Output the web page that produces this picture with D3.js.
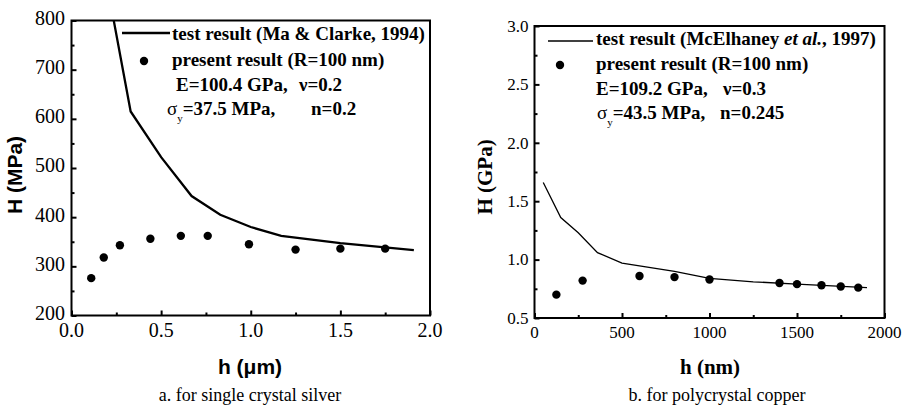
<!DOCTYPE html>
<html>
<head>
<meta charset="utf-8">
<script src="https://cdn.jsdelivr.net/npm/d3@7"></script>
<style>
  body { margin: 0; background: #fff; }
  svg { display: block; }
</style>
</head>
<body>
<script>
// panel a: single crystal silver (h in um, H in MPa)
var silverTestH = [0.2, 0.33, 0.5, 0.67, 0.83, 1.0, 1.17, 1.5, 1.91];
var silverTestHard = [870, 615, 522, 443, 405, 380, 362, 347, 333];
var silverCalcH = [0.11, 0.18, 0.27, 0.44, 0.61, 0.76, 0.99, 1.25, 1.5, 1.75];
var silverCalcHard = [276, 318, 343, 356, 362, 362, 345, 334, 336, 336];
var silverXTicks = [0, 0.5, 1.0, 1.5, 2.0];
var silverYTicks = [200, 300, 400, 500, 600, 700, 800];

// panel b: polycrystal copper (h in nm, H in GPa)
var copperTestH = [50, 150, 250, 360, 500, 800, 1000, 1250, 1500, 1900];
var copperTestHard = [1.66, 1.36, 1.23, 1.06, 0.97, 0.90, 0.84, 0.81, 0.79, 0.76];
var copperCalcH = [125, 275, 600, 800, 1000, 1400, 1500, 1640, 1750, 1850];
var copperCalcHard = [0.70, 0.82, 0.86, 0.85, 0.83, 0.80, 0.79, 0.78, 0.77, 0.76];
var copperXTicks = [0, 500, 1000, 1500, 2000];
var copperYTicks = [0.5, 1.0, 1.5, 2.0, 2.5, 3.0];

var SERIF = "'Liberation Serif', 'Times New Roman', serif";
var SANS = "'Liberation Sans', Arial, sans-serif";

var svg = d3.select("body").append("svg")
            .attr("width", 909)
            .attr("height", 409);

function zip(a, b){
  var out = [];
  for (var i = 0; i < a.length; i++) out.push({x: a[i], y: b[i]});
  return out;
}

function panel(opt){
  var x = d3.scaleLinear().domain(opt.xDomain).range(opt.xRange);
  var y = d3.scaleLinear().domain(opt.yDomain).range(opt.yRange);
  var g = svg.append("g");

  function ticks(axis, tr, size){
    g.append("g").attr("transform", tr)
      .call(axis.tickSize(size).tickFormat(""))
      .call(function(s){
        s.select(".domain").remove();
        s.selectAll("text").remove();
        s.selectAll("line").attr("stroke-width", 2);
      });
  }
  var bottom = "translate(0," + opt.yRange[0] + ")";
  var left = "translate(" + opt.xRange[0] + ",0)";
  ticks(d3.axisBottom(x).tickValues(opt.xMinor), bottom, -3);
  ticks(d3.axisLeft(y).tickValues(opt.yMinor), left, -3);
  ticks(d3.axisBottom(x).tickValues(opt.xTicks), bottom, -5);
  ticks(d3.axisLeft(y).tickValues(opt.yTicks), left, -5);

  // tick labels, placed from the scales
  g.selectAll("text.xl").data(opt.xTicks).enter().append("text")
    .attr("class", "xl")
    .attr("x", function(d){ return x(d); })
    .attr("y", opt.yRange[0] + opt.xPad)
    .attr("dy", "0.71em")
    .attr("text-anchor", "middle")
    .style("font-family", SERIF).style("font-size", opt.tickFont + "px")
    .text(opt.xFmt);
  g.selectAll("text.yl").data(opt.yTicks).enter().append("text")
    .attr("class", "yl")
    .attr("x", opt.xRange[0] - opt.yPad)
    .attr("y", function(d){ return y(d); })
    .attr("dy", opt.yDy)
    .attr("text-anchor", "end")
    .style("font-family", SERIF).style("font-size", opt.tickFont + "px")
    .text(opt.yFmt);

  // frame
  g.append("rect")
    .attr("x", opt.xRange[0]).attr("y", opt.yRange[1])
    .attr("width", opt.xRange[1] - opt.xRange[0])
    .attr("height", opt.yRange[0] - opt.yRange[1])
    .attr("fill", "none").attr("stroke", "#000").attr("stroke-width", 2);

  var clipId = "clip" + opt.id;
  svg.append("clipPath").attr("id", clipId).append("rect")
    .attr("x", opt.xRange[0]).attr("y", opt.yRange[1])
    .attr("width", opt.xRange[1] - opt.xRange[0])
    .attr("height", opt.yRange[0] - opt.yRange[1]);

  var line = d3.line().x(function(d){ return x(d.x); }).y(function(d){ return y(d.y); });
  g.append("path")
    .attr("d", line(opt.test))
    .attr("clip-path", "url(#" + clipId + ")")
    .attr("fill", "none").attr("stroke", "#000").attr("stroke-width", opt.lineW);

  g.selectAll("circle.pt").data(opt.calc).enter().append("circle")
    .attr("class", "pt")
    .attr("cx", function(d){ return x(d.x); })
    .attr("cy", function(d){ return y(d.y); })
    .attr("r", 4.2).attr("fill", "#000");

  return g;
}

var pa = panel({
  id: "a",
  xDomain: [0, 2], xRange: [71.5, 430],
  yDomain: [200, 800], yRange: [315.5, 20.5],
  xTicks: silverXTicks, yTicks: silverYTicks,
  xMinor: [0.25, 0.75, 1.25, 1.75],
  yMinor: [250, 350, 450, 550, 650, 750],
  xFmt: d3.format(".1f"), yFmt: d3.format("d"),
  xPad: 7, yPad: 6.5, tickFont: 20, yDy: "0.22em",
  lineW: 2.3,
  test: zip(silverTestH, silverTestHard),
  calc: zip(silverCalcH, silverCalcHard)
});

var pb = panel({
  id: "b",
  xDomain: [0, 2000], xRange: [534.5, 884.5],
  yDomain: [0.5, 3], yRange: [318, 26],
  xTicks: copperXTicks, yTicks: copperYTicks,
  xMinor: [250, 750, 1250, 1750],
  yMinor: [0.75, 1.25, 1.75, 2.25, 2.75],
  xFmt: d3.format("d"), yFmt: d3.format(".1f"),
  xPad: 8, yPad: 6, tickFont: 17, yDy: "0.34em",
  lineW: 1.3,
  test: zip(copperTestH, copperTestHard),
  calc: zip(copperCalcH, copperCalcHard)
});

// ---- legends ----
function legend(g, o){
  g.append("line").attr("x1", o.lx1).attr("x2", o.lx2).attr("y1", o.ly).attr("y2", o.ly)
    .attr("stroke", "#000").attr("stroke-width", o.lineW);
  g.append("circle").attr("cx", o.dx).attr("cy", o.dy).attr("r", 4.2).attr("fill", "#000");
  function txt(x, y){
    return g.append("text").attr("x", x).attr("y", y)
      .style("font-family", SERIF).style("font-size", "19px").style("font-weight", "bold");
  }
  o.title(txt(o.tx, o.y1));
  txt(o.tx, o.y2).text("present result (R=100 nm)");
  var t3 = txt(o.ex, o.y3);
  t3.append("tspan").text(o.e);
  t3.append("tspan").attr("x", o.nuX).text(o.nu);
  var t4 = txt(o.sx, o.y4);
  t4.append("tspan").style("font-weight", "normal").text("σ");
  t4.append("tspan").attr("dy", 7).style("font-size", "11px").style("font-weight", "normal").text("y");
  t4.append("tspan").attr("dy", -7).text(o.sig);
  t4.append("tspan").attr("x", o.nX).text(o.n);
}

legend(pa, {
  lx1: 122, lx2: 170, ly: 33, lineW: 2.3, dx: 144, dy: 61,
  tx: 172, y1: 40, y2: 66, ex: 176, y3: 91, sx: 167, y4: 115,
  title: function(t){ t.text("test result (Ma & Clarke, 1994)"); },
  e: "E=100.4 GPa,", nuX: 299, nu: "ν=0.2",
  sig: "=37.5 MPa,", nX: 311, n: "n=0.2"
});

legend(pb, {
  lx1: 548, lx2: 593, ly: 41, lineW: 1.3, dx: 560, dy: 65,
  tx: 596, y1: 45, y2: 70, ex: 596, y3: 95, sx: 597, y4: 119,
  title: function(t){
    t.append("tspan").text("test result (McElhaney ");
    t.append("tspan").style("font-style", "italic").text("et al.");
    t.append("tspan").text(", 1997)");
  },
  e: "E=109.2 GPa,", nuX: 723, nu: "ν=0.3",
  sig: "=43.5 MPa,", nX: 720, n: "n=0.245"
});

// ---- axis titles and captions ----
function label(x, y, rot, family, size, bold, s){
  svg.append("text")
    .attr("transform", "translate(" + x + "," + y + ")" + (rot ? " rotate(-90)" : ""))
    .attr("text-anchor", "middle")
    .style("font-family", family).style("font-size", size + "px")
    .style("font-weight", bold ? "bold" : "normal")
    .text(s);
}
label(22, 175, true, SANS, 21, true, "H (MPa)");
label(250, 374, false, SANS, 21, true, "h (μm)");
label(250, 401, false, SERIF, 18, false, "a. for single crystal silver");
label(492, 177, true, SERIF, 21, true, "H (GPa)");
label(710, 374, false, SERIF, 21, true, "h (nm)");
label(717, 401, false, SERIF, 18, false, "b. for polycrystal copper");
</script>
</body>
</html>
